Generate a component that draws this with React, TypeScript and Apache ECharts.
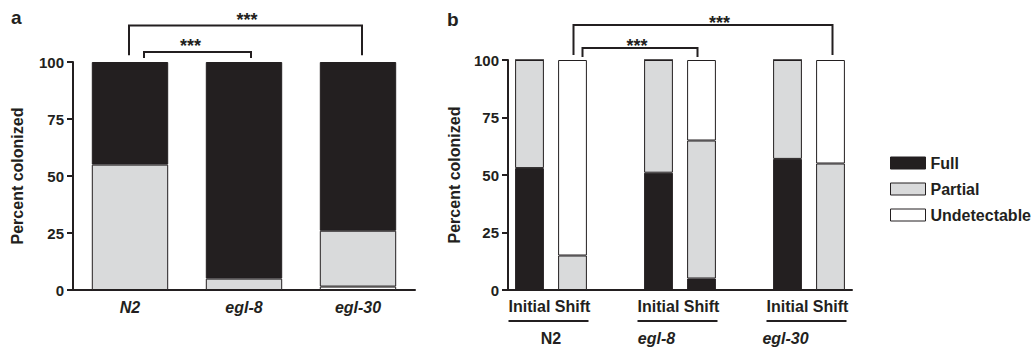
import React, { useEffect, useRef } from "react";
import * as echarts from "echarts";

// ---- data ----
const groupsA = ["N2", "egl-8", "egl-30"];
const undetA = [0, 0, 1.5];
const partialA = [55, 5, 24.5];
const fullA = [45, 95, 74];

const catsB = ["Initial", "Shift", "", "Initial", "Shift", "", "Initial", "Shift"];
const fullB = [53, 0, null, 51, 5, null, 57, 0];
const partialB = [47, 15, null, 49, 60, null, 43, 55];
const undetB = [0, 85, null, 0, 35, null, 0, 45];
const groupLabelsB = ["N2", "egl-8", "egl-30"];
const groupItalicB = [false, true, true];

const legendNames = ["Full", "Partial", "Undetectable"];
const yTitle = "Percent colonized";
const stars = "***";

const FONT = "'Liberation Sans', Arial, Helvetica, sans-serif";
const INK = "#231f20";
const C_FULL = "#231f20";
const C_PART = "#d9dadb";
const C_UND = "#ffffff";

const colorOf: Record<string, string> = { Full: C_FULL, Partial: C_PART, Undetectable: C_UND };

export default function App() {
  const ref = useRef<HTMLDivElement>(null);
  useEffect(() => {
    if (!ref.current) return;
    const chart = echarts.init(ref.current, null, { renderer: "svg" });

    const yAxisBase = (gap: number) => ({
      type: "value",
      min: 0,
      max: 100,
      interval: 25,
      name: yTitle,
      nameLocation: "middle",
      nameRotate: 90,
      nameGap: gap,
      nameTextStyle: { fontFamily: FONT, fontWeight: "bold", fontSize: 16, color: INK },
      axisLine: { show: true, lineStyle: { color: INK, width: 2 } },
      axisTick: { show: true, length: 6, lineStyle: { color: INK, width: 2 } },
      axisLabel: { fontFamily: FONT, fontWeight: "bold", fontSize: 15, color: INK, margin: 9 },
      splitLine: { show: false },
    });

    const barStyle = (name: string) => ({
      color: colorOf[name],
      borderColor: INK,
      borderWidth: 1,
    });

    const seriesA = [
      { name: "Undetectable", data: undetA },
      { name: "Partial", data: partialA },
      { name: "Full", data: fullA },
    ].map((s) => ({
      type: "bar",
      name: s.name,
      stack: "a",
      xAxisIndex: 0,
      yAxisIndex: 0,
      barWidth: "67%",
      data: s.data,
      itemStyle: barStyle(s.name),
    }));

    const seriesB = [
      { name: "Full", data: fullB },
      { name: "Partial", data: partialB },
      { name: "Undetectable", data: undetB },
    ].map((s) => ({
      type: "bar",
      name: s.name,
      stack: "b",
      xAxisIndex: 1,
      yAxisIndex: 1,
      barWidth: "67%",
      data: s.data,
      itemStyle: barStyle(s.name),
    }));

    chart.setOption({
      animation: false,
      backgroundColor: "#ffffff",
      grid: [
        { left: 73, top: 62, width: 342, height: 228 },
        { left: 508, top: 60, width: 344, height: 230 },
      ],
      legend: {
        orient: "vertical",
        left: 885,
        top: 150,
        itemWidth: 35,
        itemHeight: 12,
        itemGap: 10,
        icon: "rect",
        textStyle: { fontFamily: FONT, fontWeight: "bold", fontSize: 16, color: INK },
        data: legendNames.map((n) => ({
          name: n,
          itemStyle: { color: colorOf[n], borderColor: INK, borderWidth: 1 },
        })),
      },
      xAxis: [
        {
          type: "category",
          gridIndex: 0,
          data: groupsA,
          axisLine: { lineStyle: { color: INK, width: 2 } },
          axisTick: { alignWithLabel: true, length: 6, lineStyle: { color: INK, width: 2 } },
          axisLabel: {
            fontFamily: FONT,
            fontWeight: "bold",
            fontStyle: "italic",
            fontSize: 16,
            color: INK,
            margin: 9,
          },
        },
        {
          type: "category",
          gridIndex: 1,
          data: catsB,
          axisLine: { lineStyle: { color: INK, width: 2 } },
          axisTick: { alignWithLabel: true, interval: 0, length: 6, lineStyle: { color: INK, width: 2 } },
          axisLabel: {
            interval: 0,
            fontFamily: FONT,
            fontWeight: "bold",
            fontSize: 16,
            color: INK,
            margin: 8,
          },
        },
      ],
      yAxis: [
        { ...yAxisBase(48), gridIndex: 0 },
        { ...yAxisBase(46), gridIndex: 1 },
      ],
      series: [...seriesA, ...seriesB],
    });

    // ---- annotations computed from the axes ----
    const P = (g: number, cat: number, val: number) =>
      chart.convertToPixel({ gridIndex: g } as any, [cat, val]) as number[];

    const lineStyle = { stroke: INK, lineWidth: 2 };
    const bracket = (x1: number, x2: number, yTop: number, yL: number, yR: number) => ({
      type: "polyline",
      shape: { points: [[x1, yL], [x1, yTop], [x2, yTop], [x2, yR]] },
      style: { ...lineStyle, fill: null },
      silent: true,
    });
    const starText = (x: number, y: number) => ({
      type: "text",
      x,
      y,
      style: {
        text: stars,
        fontFamily: FONT,
        fontWeight: "bold",
        fontSize: 18,
        fill: INK,
        align: "center",
        verticalAlign: "middle",
      },
      silent: true,
    });

    const g: any[] = [];
    const panelLetter = (t: string, x: number, y: number) => ({
      type: "text",
      x,
      y,
      style: { text: t, fontFamily: FONT, fontWeight: "bold", fontSize: 19, fill: INK },
      silent: true,
    });
    g.push(panelLetter("a", 11, 8));
    g.push(panelLetter("b", 447, 10));

    // panel a brackets
    {
      const n2 = P(0, 0, 116);
      const e8 = P(0, 1, 104.4);
      const e30 = P(0, 2, 116);
      const yDownO = P(0, 0, 103)[1];
      g.push(bracket(n2[0] - 1, e30[0] + 4, n2[1], yDownO, yDownO));
      g.push(starText((n2[0] + e30[0]) / 2 + 3, P(0, 0, 118.6)[1]));
      const yDownI = P(0, 0, 101.8)[1];
      const xI1 = P(0, 0, 0)[0] + 14;
      const xI2 = e8[0] + 7;
      g.push(bracket(xI1, xI2, e8[1], yDownI, yDownI));
      g.push(starText((xI1 + xI2) / 2 - 7, P(0, 0, 107.2)[1]));
    }
    // panel b brackets
    {
      const s0 = P(1, 1, 115.2);
      const s8 = P(1, 4, 105.2);
      const s30 = P(1, 7, 115.2);
      const yDownO = P(1, 1, 102.2)[1];
      g.push(bracket(s0[0] + 1, s30[0] + 2, s0[1], yDownO, yDownO));
      g.push(starText((s0[0] + s30[0]) / 2 + 18, P(1, 1, 116.3)[1]));
      const yDownI = P(1, 1, 101.3)[1];
      const xI1 = s0[0] + 10;
      const xI2 = s8[0] - 4;
      g.push(bracket(xI1, xI2, s8[1], yDownI, yDownI));
      g.push(starText((xI1 + xI2) / 2 - 3, P(1, 1, 106.3)[1]));
    }
    // panel b group underlines and labels
    const base = P(1, 0, 0)[1];
    groupLabelsB.forEach((lab, i) => {
      const ci = i * 3;
      const xa = P(1, ci, 0)[0];
      const xb = P(1, ci + 1, 0)[0];
      g.push({
        type: "line",
        shape: { x1: xa - 21, y1: base + 31, x2: xb + 16, y2: base + 31 },
        style: lineStyle,
        silent: true,
      });
      const cx = i === 0 ? (xa + xb) / 2 : xa - 2;
      g.push({
        type: "text",
        x: cx,
        y: base + 48,
        style: {
          text: lab,
          fontFamily: FONT,
          fontWeight: "bold",
          fontStyle: groupItalicB[i] ? "italic" : "normal",
          fontSize: 16,
          fill: INK,
          align: "center",
          verticalAlign: "middle",
        },
        silent: true,
      });
    });

    chart.setOption({ graphic: g });

    return () => chart.dispose();
  }, []);

  return (
    <div
      ref={ref}
      style={{ position: "fixed", left: 0, top: 0, width: 1035, height: 348, background: "#fff" }}
    />
  );
}
